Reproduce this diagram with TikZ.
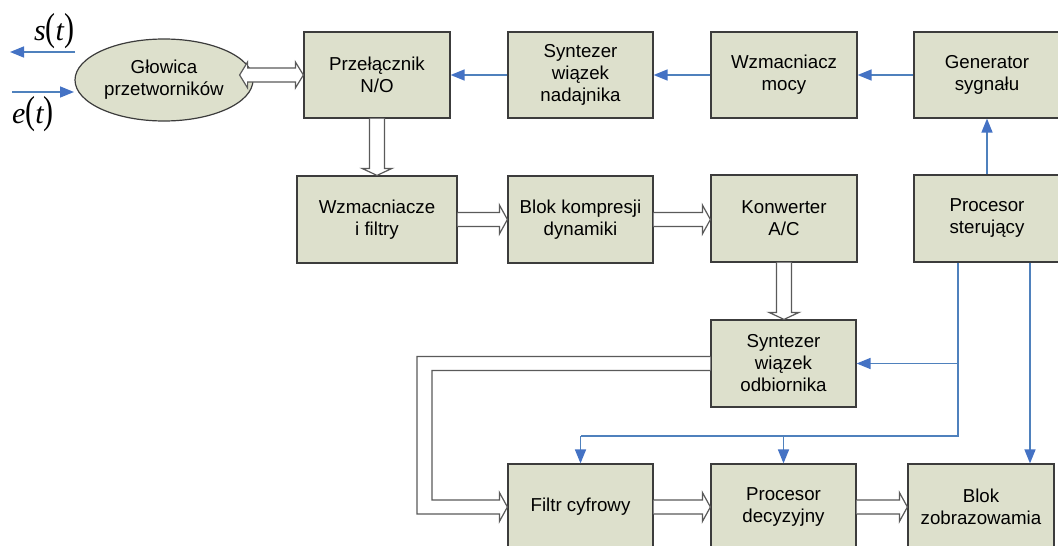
\documentclass[tikz,border=0pt]{standalone}
\usepackage{fontspec}
\setmainfont{Liberation Sans}
\newfontfamily\tnr{Liberation Serif}
\usetikzlibrary{arrows.meta,calc,shapes.geometric}
\definecolor{boxfill}{RGB}{221,224,204}
\definecolor{boxline}{RGB}{60,60,60}
\definecolor{blueline}{RGB}{79,129,189}
\definecolor{bluehead}{RGB}{68,114,196}
\definecolor{hollowline}{RGB}{90,90,90}
\tikzset{
  blk/.style={draw=boxline, fill=boxfill, line width=1.2pt, minimum width=146pt, minimum height=86pt,
    inner sep=0pt, align=center, font=\fontsize{18.7}{22}\selectfont},
  bl/.style={draw=blueline, line width=1.5pt, -{Triangle[length=14pt,width=11pt,color=bluehead,fill=bluehead]}},
  blplain/.style={draw=blueline, line width=1.5pt},
  hollow/.style={draw=hollowline, fill=white, line width=1.2pt, line join=miter},
  mathlbl/.style={inner sep=0pt, font=\tnr\fontsize{30}{30}\selectfont}
}
\newcommand\hollowH[2]{\draw[hollow] let \p1=(#1), \p2=(#2) in
  (\x1,\y1+7pt) -- (\x2-8pt,\y1+7pt) -- (\x2-8pt,\y1+14.5pt) -- (\x2,\y1) -- (\x2-8pt,\y1-14.5pt) -- (\x2-8pt,\y1-7pt) -- (\x1,\y1-7pt);}
\newcommand\hollowV[2]{\draw[hollow] let \p1=(#1), \p2=(#2) in
  (\x1+7.5pt,\y1) -- (\x1+7.5pt,\y2+7pt) -- (\x1+15pt,\y2+7pt) -- (\x1,\y2) -- (\x1-15pt,\y2+7pt) -- (\x1-7.5pt,\y2+7pt) -- (\x1-7.5pt,\y1);}
\newcommand\bigpar[1]{\scalebox{1}[1.3]{#1}}
\begin{document}
\begin{tikzpicture}[x=1pt,y=-1pt]
\clip (0,0) rectangle (1058,546);
\fill[white] (0,0) rectangle (1058,546);

% nodes
\node[ellipse, draw=boxline, fill=boxfill, line width=1.2pt, minimum width=178pt, minimum height=82pt,
  inner sep=0pt, align=center, font=\fontsize{18.7}{22}\selectfont] (head) at (164,80) {Głowica\\przetworników};
\node[blk] (prz) at (377,75) {Przełącznik\\N/O};
\node[blk, minimum width=145pt] (synN) at (580.5,75) {Syntezer\\wiązek\\nadajnika};
\node[blk] (wzm) at (784,75) {Wzmacniacz\\mocy};
\node[blk] (gen) at (987,75) {Generator\\sygnału};
\node[blk, minimum width=160pt, minimum height=87pt] (wzf) at (377,219.5) {Wzmacniacze\\i filtry};
\node[blk, minimum width=145pt, minimum height=87pt] (kom) at (580.5,219.5) {Blok kompresji\\dynamiki};
\node[blk, minimum height=87pt] (kon) at (784,218.5) {Konwerter\\A/C};
\node[blk, minimum height=87pt] (ster) at (987,218.5) {Procesor\\sterujący};
\node[blk, minimum width=145pt, minimum height=87pt] (synO) at (783.5,363.5) {Syntezer\\wiązek\\odbiornika};
\node[blk, minimum width=145pt] (fil) at (580.5,507) {Filtr cyfrowy};
\node[blk, minimum width=145pt] (dec) at (783.5,507) {Procesor\\decyzyjny};
\node[blk] (zob) at (981,507) {Blok\\zobrazowamia};

% math labels
\node[mathlbl] (st) at (54,31) {\itshape s\upshape\bigpar{(}\itshape t\upshape\bigpar{)}};
\node[mathlbl] (et) at (33,114) {\itshape e\upshape\bigpar{(}\itshape t\upshape\bigpar{)}};
\coordinate (sA) at (75,52);
\coordinate (sB) at (10,52);
\coordinate (eA) at (12,92);
\coordinate (eB) at (74,92);
\draw[bl] (sA) -- (sB);
\draw[bl] (eA) -- (eB);

% blue control connectors
\draw[bl] (gen) -- (wzm);
\draw[bl] (wzm) -- (synN);
\draw[bl] (synN) -- (prz);
\draw[bl] (ster.north) -- (gen.south);
\coordinate (j1) at (958,436);
\coordinate (j2) at (1030,436);
\draw[blplain] (ster.south -| j1) -- (j1) -- (j1 -| fil.north);
\draw[bl] (j1 -| fil.north) -- (fil.north);
\draw[bl] (j1 -| dec.north) -- (dec.north);
\draw[bl] (synO.east -| j1) -- (synO.east);
\draw[bl] (ster.south -| j2) -- (zob.north -| j2);

% hollow data arrows
\draw[hollow] let \p1=(head.east), \p2=(prz.west) in
  (\x1-14pt,\y2) -- (\x1-6pt,\y2+13pt) -- (\x1-6pt,\y2+7pt) -- (\x2-8pt,\y2+7pt) -- (\x2-8pt,\y2+13pt) -- (\x2,\y2)
  -- (\x2-8pt,\y2-13pt) -- (\x2-8pt,\y2-7pt) -- (\x1-6pt,\y2-7pt) -- (\x1-6pt,\y2-13pt) -- cycle;
\hollowV{prz.south}{wzf.north}
\hollowH{wzf.east}{kom.west}
\hollowH{kom.east}{kon.west}
\hollowV{kon.south}{synO.north}
\coordinate (bend) at (424.5,436);
\draw[hollow] let \p1=(synO.west), \p2=(fil.west), \p3=(bend) in
  (\x1,\y1+7pt) -- (\x3-7.5pt,\y1+7pt) -- (\x3-7.5pt,\y2-7pt) -- (\x2-8pt,\y2-7pt) -- (\x2-8pt,\y2-14.5pt) -- (\x2,\y2)
  -- (\x2-8pt,\y2+14.5pt) -- (\x2-8pt,\y2+7pt) -- (\x3+7.5pt,\y2+7pt) -- (\x3+7.5pt,\y1-7pt) -- (\x1,\y1-7pt);
\hollowH{fil.east}{dec.west}
\hollowH{dec.east}{zob.west}
\end{tikzpicture}
\end{document}
